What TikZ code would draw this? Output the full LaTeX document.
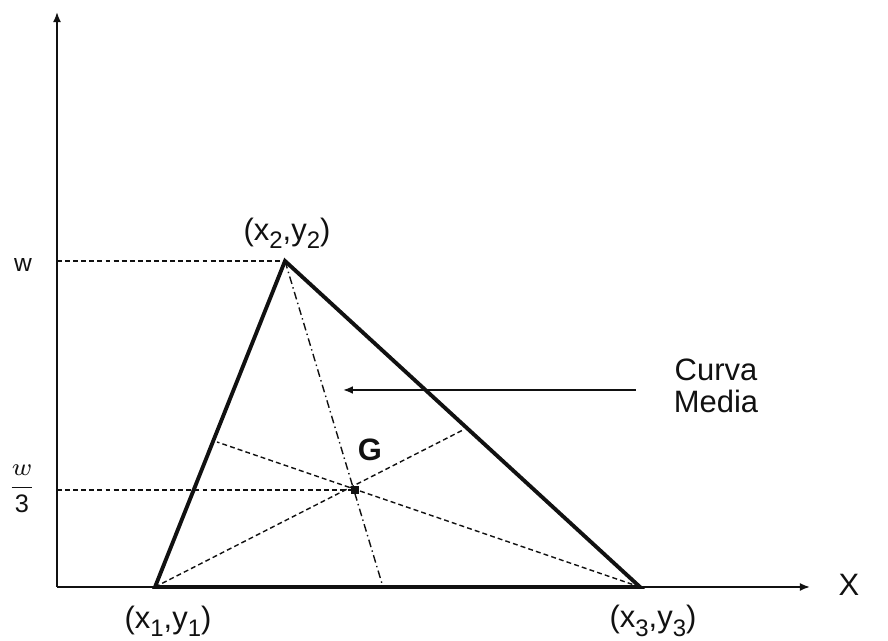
\documentclass[tikz,border=0pt]{standalone}
\usepackage{fontspec}
\setmainfont{Liberation Sans}
\usepackage{amsmath}
\usepackage{tikz}
\usetikzlibrary{arrows.meta,calc}
\definecolor{ink}{HTML}{111111}
\newcommand{\lowsub}[1]{\raisebox{-0.5ex}{\fontsize{6.8}{7}\selectfont #1}}

\begin{document}
\begin{tikzpicture}[x=1cm,y=1cm,every node/.style={font=\fontsize{8.8}{9.2}\selectfont,text=ink,inner sep=0pt},
  axisline/.style={ink,line width=0.5pt,-{Latex[length=2.9pt,width=2.3pt]}},
  side/.style={ink,line width=1.1pt,line join=miter},
  guide/.style={ink,line width=0.4pt,dash pattern=on 1.4pt off 0.9pt},
  medianline/.style={ink,line width=0.4pt,dash pattern=on 2.2pt off 1pt on 0.4pt off 1pt}]
  \useasboundingbox (0,0) rectangle (8.88,6.41);
  % axes
  \coordinate (O) at (0.57,0.54);
  \coordinate (ytop) at (0.57,6.29);
  \coordinate (xend) at (8.10,0.54);
  \draw[axisline] (O) -- (ytop);
  \draw[axisline] (O) -- (xend);
  \node (xlab) at (8.49,0.56) {X};
  % vertices and medians
  \coordinate (P1) at (1.55,0.54);
  \coordinate (P2) at (2.85,3.80);
  \coordinate (P3) at (6.40,0.54);
  \coordinate (m12) at (2.17,1.99);
  \coordinate (m23) at (4.63,2.11);
  \coordinate (m13) at (3.83,0.54);
  \node[fill=ink,minimum size=2.3pt] (G) at (3.55,1.51) {};
  \coordinate (w1) at (O |- P2);
  \coordinate (w3) at (O |- G);
  \draw[guide] (w1) -- (P2);
  \draw[guide] (w3) -- (G.center);
  \draw[guide] (P1) -- (m23);
  \draw[guide] (P3) -- (m12);
  \draw[medianline] (P2) -- (m13);
  \draw[side] (P1) -- (P2) -- (P3) -- cycle;
  % labels
  \node (l1) at (1.68,0.20) {(x\lowsub{1},y\lowsub{1})};
  \node (l2) at (2.87,4.08) {(x\lowsub{2},y\lowsub{2})};
  \node (l3) at (6.53,0.20) {(x\lowsub{3},y\lowsub{3})};
  \node[font=\fontsize{7}{7}\selectfont] (lw) at (0.23,3.76) {w};
  \node[font=\fontsize{7.2}{7.5}\selectfont] (lw3) at (0.22,1.52) {$\dfrac{w}{\text{3}}$};
  \node[font=\fontsize{8.8}{9}\bfseries] (lG) at (3.70,1.91) {G};
  \node[align=center] (curva) at (7.16,2.55) {Curva\\Media};
  \coordinate (cs) at (6.36,2.51);
  \coordinate (ce) at (3.43,2.51);
  \draw[ink,line width=0.5pt,-{Latex[length=2.8pt,width=2.2pt]}] (cs) -- (ce);
\end{tikzpicture}
\end{document}
